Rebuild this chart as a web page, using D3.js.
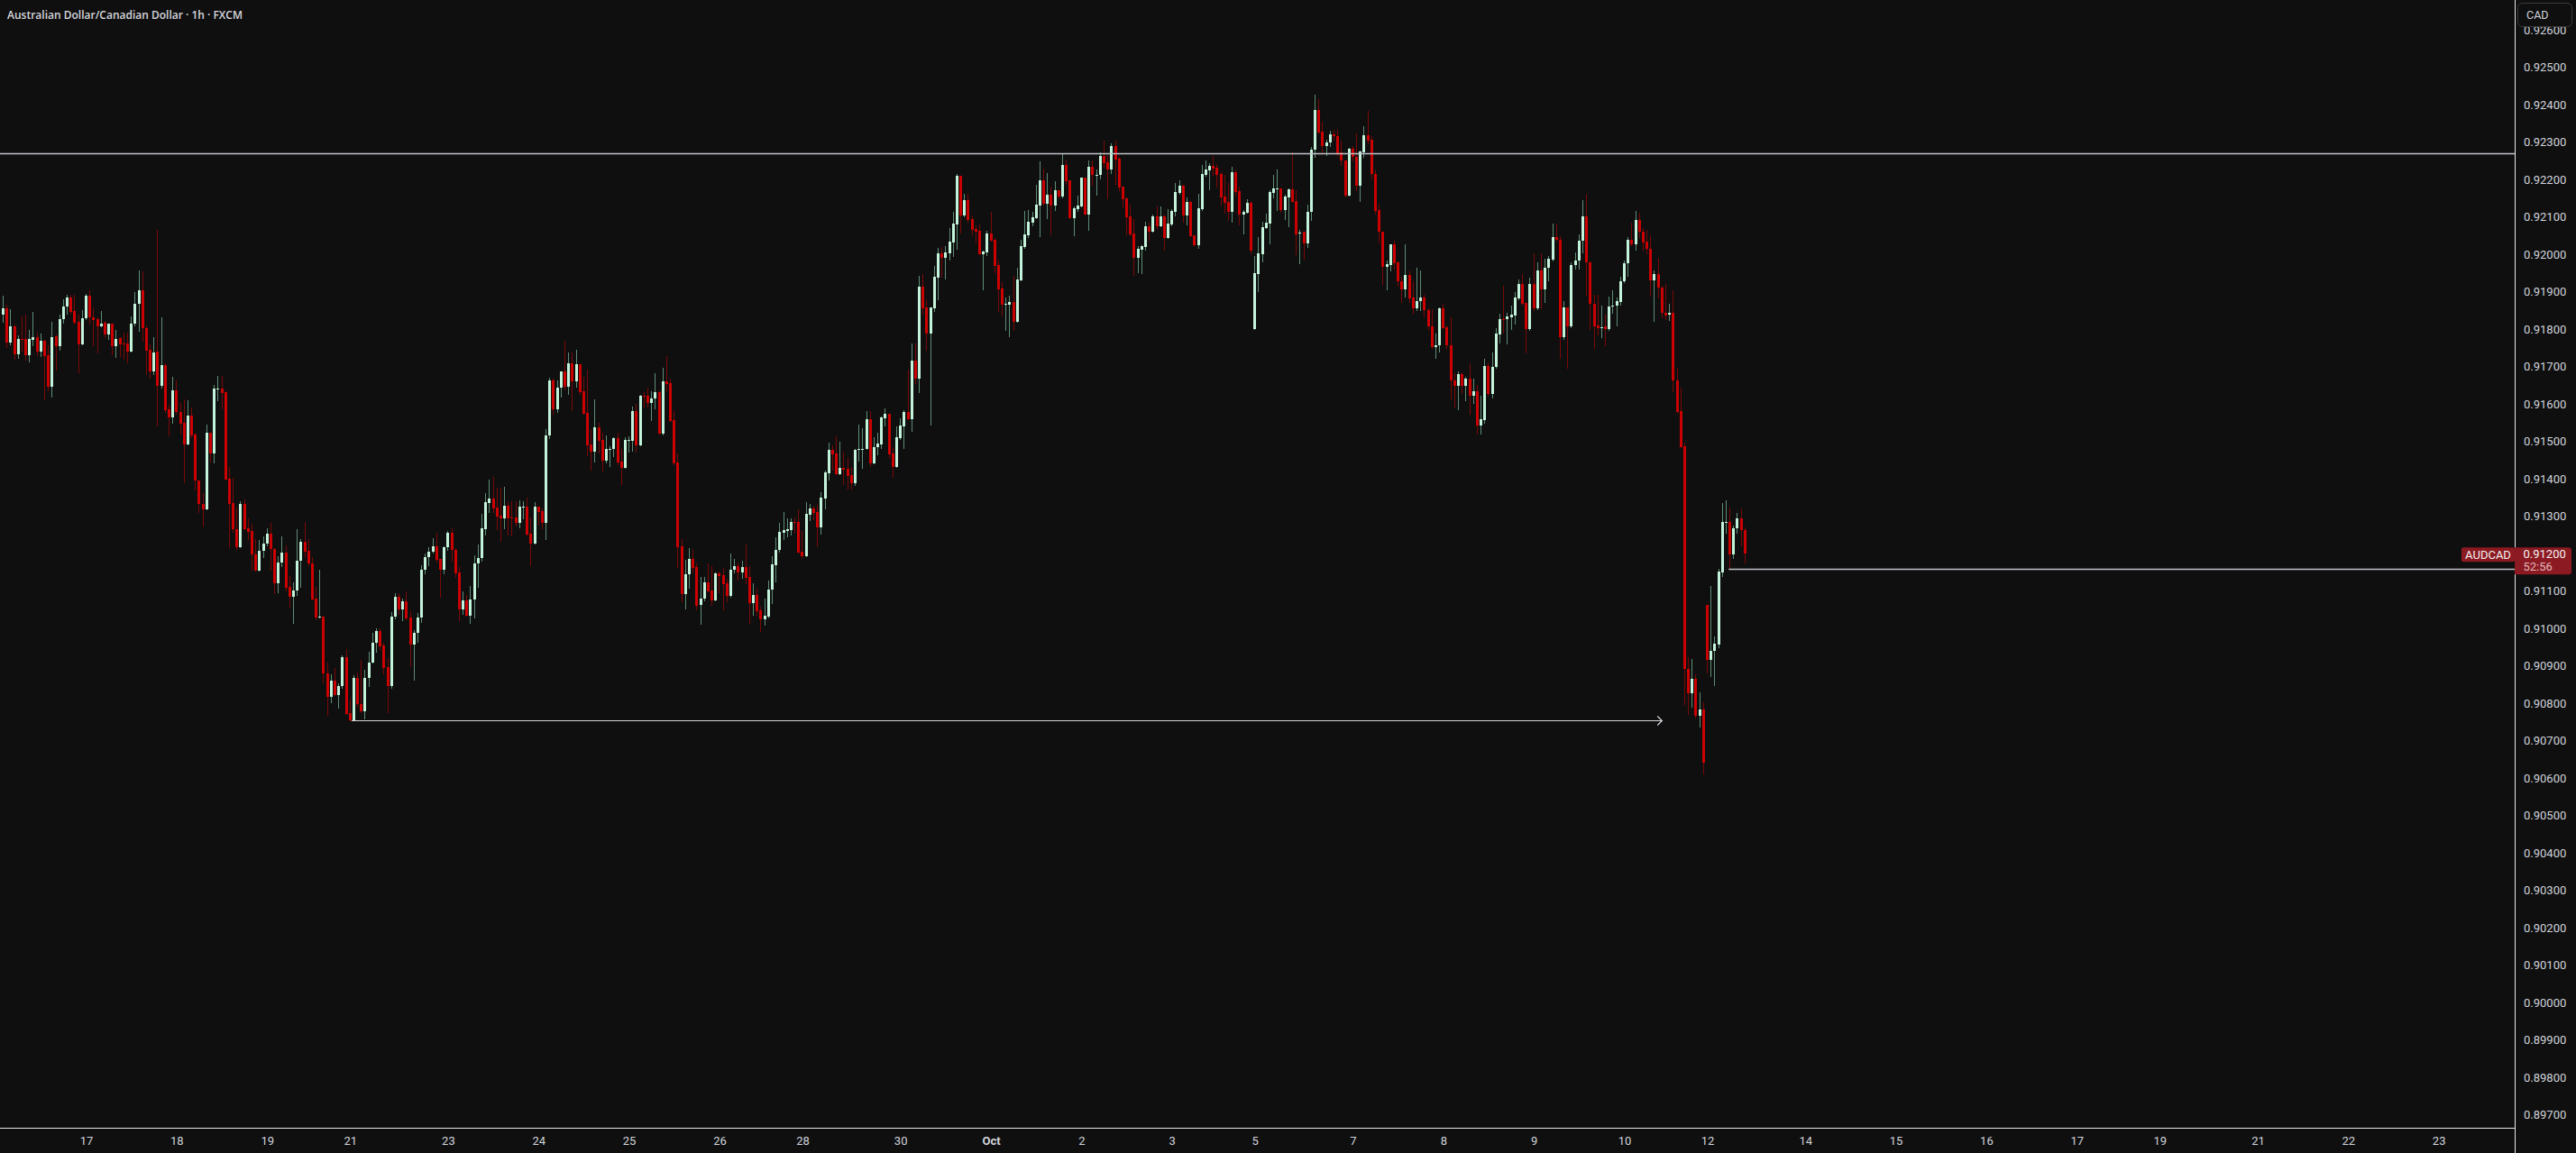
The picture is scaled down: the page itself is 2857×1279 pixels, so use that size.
<!DOCTYPE html>
<html>
<head>
<meta charset="utf-8">
<script src="https://cdn.jsdelivr.net/npm/d3@7"></script>
<style>
  html, body { margin: 0; padding: 0; background: #0f0f0f; }
  svg { display: block; }
</style>
</head>
<body>
<svg id="chart" width="2857" height="1279"></svg>
<script>
// AUDCAD 1h candles (bar 0 = first visible hour)
const opens = [
0.91840,0.91856,0.91765,0.91808,0.91734,0.91775,0.91773,0.91731,0.91772,0.91779,
0.91740,0.91769,0.91730,0.91647,0.91781,0.91755,0.91826,0.91860,0.91885,0.91848,
0.91820,0.91760,0.91829,0.91890,0.91833,0.91826,0.91808,0.91817,0.91787,0.91815,
0.91755,0.91776,0.91761,0.91762,0.91741,0.91816,0.91867,0.91903,0.91804,0.91744,
0.91688,0.91740,0.91649,0.91703,0.91586,0.91564,0.91636,0.91580,0.91549,0.91493,
0.91568,0.91519,0.91395,0.91332,0.91319,0.91523,0.91467,0.91640,0.91641,0.91632,
0.91400,0.91335,0.91266,0.91218,0.91333,0.91268,0.91261,0.91198,0.91154,0.91207,
0.91226,0.91253,0.91213,0.91122,0.91176,0.91202,0.91111,0.91086,0.91101,0.91181,
0.91232,0.91207,0.91173,0.91080,0.91030,0.91033,0.90880,0.90818,0.90861,0.90823,
0.90846,0.90923,0.90773,0.90755,0.90868,0.90798,0.90779,0.90868,0.90909,0.90961,
0.90993,0.90955,0.90897,0.90847,0.91031,0.91085,0.91050,0.91073,0.91029,0.90956,
0.90989,0.91029,0.91158,0.91190,0.91206,0.91220,0.91186,0.91156,0.91217,0.91257,
0.91210,0.91150,0.91052,0.91075,0.91035,0.91077,0.91174,0.91188,0.91266,0.91336,
0.91347,0.91323,0.91302,0.91294,0.91328,0.91297,0.91297,0.91282,0.91326,0.91326,
0.91254,0.91228,0.91326,0.91314,0.91282,0.91515,0.91663,0.91587,0.91644,0.91687,
0.91646,0.91709,0.91660,0.91706,0.91634,0.91576,0.91491,0.91473,0.91538,0.91504,
0.91449,0.91480,0.91479,0.91509,0.91446,0.91429,0.91504,0.91502,0.91581,0.91490,
0.91622,0.91622,0.91604,0.91614,0.91632,0.91522,0.91661,0.91656,0.91557,0.91444,
0.91220,0.91093,0.91145,0.91186,0.91164,0.91062,0.91080,0.91123,0.91102,0.91074,
0.91148,0.91143,0.91121,0.91088,0.91156,0.91167,0.91150,0.91164,0.91138,0.91068,
0.91090,0.91049,0.91025,0.91033,0.91103,0.91170,0.91209,0.91257,0.91261,0.91264,
0.91285,0.91285,0.91205,0.91194,0.91305,0.91321,0.91311,0.91270,0.91348,0.91416,
0.91478,0.91468,0.91413,0.91429,0.91427,0.91410,0.91388,0.91480,0.91480,0.91480,
0.91559,0.91441,0.91484,0.91493,0.91563,0.91574,0.91467,0.91433,0.91510,0.91541,
0.91579,0.91559,0.91716,0.91669,0.91914,0.91858,0.91788,0.91857,0.91938,0.92003,
0.91991,0.92004,0.92032,0.92081,0.92210,0.92104,0.92145,0.92094,0.92068,0.92063,
0.92001,0.92006,0.92056,0.92039,0.91971,0.91909,0.91866,0.91866,0.91873,0.91820,
0.91931,0.92020,0.92052,0.92085,0.92097,0.92131,0.92198,0.92136,0.92159,0.92131,
0.92171,0.92154,0.92239,0.92198,0.92098,0.92121,0.92129,0.92205,0.92107,0.92234,
0.92212,0.92212,0.92263,0.92246,0.92228,0.92289,0.92256,0.92181,0.92150,0.92102,
0.92056,0.91992,0.92013,0.92020,0.92075,0.92061,0.92102,0.92075,0.92102,0.92045,
0.92081,0.92114,0.92165,0.92183,0.92105,0.92140,0.92051,0.92025,0.92121,0.92213,
0.92225,0.92236,0.92232,0.92215,0.92154,0.92140,0.92114,0.92220,0.92169,0.92107,
0.92112,0.92138,0.91801,0.91948,0.92001,0.92071,0.92083,0.92165,0.92176,0.92176,
0.92119,0.92153,0.92174,0.92142,0.92055,0.92061,0.92029,0.92114,0.92280,0.92385,
0.92329,0.92289,0.92300,0.92322,0.92317,0.92272,0.92252,0.92158,0.92282,0.92260,
0.92184,0.92272,0.92319,0.92307,0.92216,0.92118,0.92061,0.91966,0.91972,0.92028,
0.91980,0.91929,0.91906,0.91944,0.91884,0.91857,0.91874,0.91884,0.91851,0.91808,
0.91752,0.91756,0.91856,0.91806,0.91758,0.91664,0.91648,0.91681,0.91648,0.91669,
0.91621,0.91634,0.91542,0.91558,0.91702,0.91626,0.91699,0.91786,0.91827,0.91826,
0.91832,0.91837,0.91882,0.91922,0.91870,0.91801,0.91920,0.91856,0.91958,0.91906,
0.91965,0.91987,0.92047,0.92040,0.91780,0.91858,0.91808,0.91972,0.91983,0.92036,
0.92102,0.91980,0.91868,0.91810,0.91805,0.91808,0.91801,0.91861,0.91863,0.91873,
0.91928,0.91976,0.92040,0.92028,0.92092,0.92061,0.92035,0.92016,0.91930,0.91948,
0.91912,0.91845,0.91838,0.91844,0.91664,0.91581,0.91488,0.90893,0.90828,0.90866,
0.90766,0.90784,0.91063,0.90916,0.90940,0.90958,0.91150,0.91285,0.91286,0.91197,
0.91267,0.91294,0.91264
];
const highs = [
0.91889,0.91865,0.91853,0.91812,0.91784,0.91834,0.91838,0.91798,0.91846,0.91792,
0.91788,0.91771,0.91756,0.91820,0.91785,0.91839,0.91881,0.91891,0.91891,0.91891,
0.91838,0.91851,0.91894,0.91903,0.91859,0.91833,0.91849,0.91821,0.91814,0.91816,
0.91798,0.91780,0.91790,0.91791,0.91834,0.91899,0.91957,0.91954,0.91810,0.91760,
0.91779,0.92065,0.91832,0.91708,0.91598,0.91673,0.91663,0.91604,0.91612,0.91610,
0.91590,0.91523,0.91395,0.91363,0.91545,0.91523,0.91652,0.91676,0.91676,0.91634,
0.91432,0.91403,0.91324,0.91340,0.91345,0.91294,0.91281,0.91240,0.91237,0.91246,
0.91269,0.91282,0.91214,0.91194,0.91246,0.91222,0.91140,0.91123,0.91266,0.91240,
0.91286,0.91239,0.91190,0.91112,0.91158,0.91033,0.90909,0.90877,0.90895,0.90853,
0.90928,0.90944,0.90809,0.90875,0.90883,0.90916,0.90889,0.90937,0.90989,0.91001,
0.91001,0.90961,0.90921,0.91044,0.91095,0.91095,0.91079,0.91099,0.91046,0.90996,
0.91042,0.91168,0.91201,0.91217,0.91241,0.91256,0.91186,0.91220,0.91260,0.91268,
0.91214,0.91164,0.91099,0.91090,0.91114,0.91196,0.91225,0.91306,0.91362,0.91398,
0.91405,0.91376,0.91376,0.91379,0.91338,0.91340,0.91340,0.91343,0.91340,0.91350,
0.91297,0.91338,0.91326,0.91321,0.91533,0.91670,0.91668,0.91663,0.91688,0.91769,
0.91738,0.91738,0.91745,0.91706,0.91673,0.91692,0.91533,0.91612,0.91550,0.91523,
0.91516,0.91487,0.91511,0.91523,0.91480,0.91511,0.91514,0.91593,0.91600,0.91625,
0.91632,0.91644,0.91634,0.91682,0.91637,0.91697,0.91728,0.91668,0.91581,0.91468,
0.91239,0.91184,0.91215,0.91210,0.91174,0.91138,0.91138,0.91174,0.91167,0.91150,
0.91152,0.91162,0.91133,0.91200,0.91186,0.91176,0.91181,0.91225,0.91167,0.91121,
0.91107,0.91058,0.91080,0.91128,0.91193,0.91244,0.91282,0.91311,0.91294,0.91294,
0.91297,0.91319,0.91261,0.91338,0.91333,0.91328,0.91331,0.91364,0.91422,0.91497,
0.91490,0.91514,0.91499,0.91473,0.91456,0.91432,0.91480,0.91545,0.91535,0.91581,
0.91581,0.91511,0.91523,0.91567,0.91588,0.91574,0.91486,0.91540,0.91562,0.91584,
0.91692,0.91761,0.91761,0.91942,0.91947,0.91877,0.91858,0.91969,0.92017,0.92020,
0.92022,0.92070,0.92114,0.92215,0.92210,0.92162,0.92162,0.92104,0.92077,0.92080,
0.92011,0.92063,0.92114,0.92044,0.91984,0.91926,0.91885,0.91890,0.91942,0.91964,
0.92039,0.92116,0.92118,0.92114,0.92186,0.92248,0.92229,0.92217,0.92182,0.92196,
0.92171,0.92268,0.92253,0.92198,0.92128,0.92157,0.92205,0.92205,0.92251,0.92251,
0.92227,0.92272,0.92305,0.92265,0.92297,0.92305,0.92261,0.92181,0.92152,0.92134,
0.92094,0.92022,0.92024,0.92087,0.92085,0.92106,0.92128,0.92128,0.92106,0.92121,
0.92121,0.92191,0.92198,0.92186,0.92152,0.92142,0.92051,0.92162,0.92240,0.92251,
0.92244,0.92263,0.92241,0.92220,0.92212,0.92191,0.92234,0.92227,0.92181,0.92118,
0.92147,0.92142,0.91996,0.92046,0.92087,0.92109,0.92171,0.92213,0.92228,0.92176,
0.92159,0.92176,0.92275,0.92171,0.92066,0.92061,0.92134,0.92287,0.92426,0.92416,
0.92354,0.92307,0.92331,0.92334,0.92334,0.92305,0.92252,0.92286,0.92289,0.92324,
0.92278,0.92343,0.92383,0.92317,0.92224,0.92134,0.92061,0.91984,0.92028,0.92037,
0.91981,0.91941,0.92028,0.91958,0.91927,0.91965,0.91958,0.91891,0.91857,0.91854,
0.91789,0.91858,0.91868,0.91810,0.91832,0.91683,0.91687,0.91684,0.91672,0.91710,
0.91669,0.91652,0.91622,0.91720,0.91712,0.91738,0.91804,0.91842,0.91915,0.91843,
0.91863,0.91900,0.91932,0.91948,0.91870,0.91939,0.92004,0.91978,0.92004,0.91988,
0.91996,0.92083,0.92083,0.92049,0.91875,0.91858,0.91980,0.92006,0.92054,0.92144,
0.92161,0.91982,0.91891,0.91891,0.91863,0.91840,0.91887,0.91905,0.91885,0.91941,
0.91984,0.92047,0.92084,0.92116,0.92112,0.92071,0.92066,0.92052,0.91956,0.91992,
0.91915,0.91922,0.91868,0.91905,0.91698,0.91645,0.91497,0.90924,0.90918,0.90877,
0.90829,0.90802,0.91063,0.91113,0.90979,0.91159,0.91336,0.91342,0.91324,0.91276,
0.91309,0.91321,0.91270
];
const lows = [
0.91819,0.91752,0.91760,0.91722,0.91724,0.91743,0.91718,0.91714,0.91758,0.91731,
0.91727,0.91613,0.91636,0.91620,0.91693,0.91746,0.91818,0.91841,0.91842,0.91814,
0.91686,0.91760,0.91827,0.91815,0.91758,0.91739,0.91807,0.91778,0.91774,0.91733,
0.91726,0.91729,0.91722,0.91712,0.91740,0.91811,0.91796,0.91769,0.91680,0.91671,
0.91680,0.91543,0.91645,0.91580,0.91515,0.91551,0.91573,0.91522,0.91392,0.91491,
0.91512,0.91372,0.91312,0.91276,0.91319,0.91446,0.91445,0.91611,0.91589,0.91397,
0.91218,0.91258,0.91212,0.91217,0.91265,0.91238,0.91158,0.91154,0.91154,0.91192,
0.91222,0.91158,0.91094,0.91098,0.91166,0.91102,0.91058,0.91016,0.91090,0.91112,
0.91194,0.91168,0.91077,0.91025,0.91030,0.90855,0.90768,0.90804,0.90822,0.90789,
0.90841,0.90771,0.90755,0.90755,0.90793,0.90777,0.90760,0.90847,0.90908,0.90937,
0.90944,0.90881,0.90777,0.90841,0.91028,0.91038,0.91023,0.91025,0.90899,0.90863,
0.90965,0.91017,0.91148,0.91170,0.91204,0.91178,0.91086,0.91148,0.91209,0.91180,
0.91138,0.91023,0.91040,0.91035,0.91016,0.91030,0.91112,0.91182,0.91252,0.91312,
0.91312,0.91266,0.91234,0.91269,0.91252,0.91249,0.91274,0.91271,0.91294,0.91252,
0.91168,0.91228,0.91278,0.91268,0.91240,0.91509,0.91574,0.91580,0.91620,0.91639,
0.91627,0.91584,0.91646,0.91626,0.91574,0.91463,0.91425,0.91446,0.91470,0.91422,
0.91444,0.91434,0.91461,0.91439,0.91386,0.91429,0.91473,0.91475,0.91473,0.91490,
0.91593,0.91593,0.91557,0.91589,0.91522,0.91519,0.91637,0.91555,0.91439,0.91164,
0.91073,0.91054,0.91109,0.91152,0.91051,0.91013,0.91074,0.91099,0.91063,0.91074,
0.91097,0.91051,0.91073,0.91086,0.91150,0.91131,0.91136,0.91121,0.91015,0.91037,
0.91037,0.90993,0.91011,0.91030,0.91068,0.91126,0.91206,0.91239,0.91246,0.91251,
0.91258,0.91203,0.91188,0.91194,0.91290,0.91292,0.91220,0.91253,0.91321,0.91398,
0.91425,0.91413,0.91413,0.91386,0.91374,0.91374,0.91384,0.91449,0.91429,0.91480,
0.91434,0.91441,0.91466,0.91482,0.91543,0.91459,0.91406,0.91433,0.91507,0.91483,
0.91559,0.91529,0.91657,0.91632,0.91842,0.91746,0.91545,0.91849,0.91880,0.91941,
0.91936,0.91986,0.91996,0.92015,0.92059,0.92102,0.92087,0.92053,0.92032,0.92000,
0.91906,0.91999,0.92037,0.91952,0.91849,0.91837,0.91799,0.91782,0.91799,0.91820,
0.91931,0.92018,0.92046,0.92077,0.92097,0.92049,0.92134,0.92097,0.92054,0.92118,
0.92153,0.92152,0.92188,0.92098,0.92051,0.92116,0.92127,0.92107,0.92066,0.92187,
0.92160,0.92204,0.92235,0.92151,0.92218,0.92189,0.92172,0.92128,0.92054,0.92052,
0.91946,0.91952,0.91951,0.92013,0.92040,0.92061,0.92069,0.92075,0.92013,0.92044,
0.92077,0.92104,0.92162,0.92088,0.92080,0.92049,0.92025,0.92017,0.92119,0.92210,
0.92175,0.92212,0.92182,0.92134,0.92111,0.92092,0.92087,0.92157,0.92079,0.92057,
0.92111,0.92003,0.91801,0.91902,0.91981,0.92070,0.92029,0.92153,0.92118,0.92114,
0.92095,0.92075,0.92141,0.92000,0.91976,0.91988,0.92019,0.92091,0.92260,0.92323,
0.92272,0.92265,0.92289,0.92307,0.92265,0.92240,0.92155,0.92157,0.92251,0.92172,
0.92143,0.92260,0.92296,0.92203,0.92110,0.92031,0.91921,0.91906,0.91956,0.91963,
0.91916,0.91872,0.91888,0.91872,0.91843,0.91850,0.91852,0.91834,0.91800,0.91749,
0.91723,0.91740,0.91802,0.91749,0.91614,0.91592,0.91587,0.91630,0.91611,0.91573,
0.91603,0.91522,0.91522,0.91551,0.91623,0.91618,0.91696,0.91765,0.91792,0.91762,
0.91801,0.91814,0.91879,0.91866,0.91738,0.91798,0.91852,0.91854,0.91856,0.91872,
0.91930,0.91984,0.92037,0.91723,0.91774,0.91696,0.91806,0.91963,0.91963,0.92006,
0.91891,0.91800,0.91749,0.91786,0.91778,0.91756,0.91797,0.91844,0.91809,0.91866,
0.91926,0.91942,0.92024,0.92013,0.92046,0.92013,0.92004,0.91890,0.91821,0.91886,
0.91831,0.91828,0.91824,0.91635,0.91580,0.91486,0.90798,0.90772,0.90790,0.90762,
0.90738,0.90612,0.90882,0.90873,0.90849,0.90950,0.91141,0.91257,0.91159,0.91189,
0.91255,0.91221,0.91176
];
const closes = [
0.91855,0.91765,0.91807,0.91734,0.91775,0.91771,0.91731,0.91773,0.91778,0.91740,
0.91768,0.91729,0.91647,0.91780,0.91755,0.91826,0.91860,0.91885,0.91847,0.91818,
0.91760,0.91829,0.91889,0.91833,0.91824,0.91808,0.91816,0.91787,0.91814,0.91755,
0.91775,0.91760,0.91760,0.91741,0.91816,0.91867,0.91903,0.91804,0.91743,0.91688,
0.91739,0.91649,0.91703,0.91584,0.91564,0.91636,0.91580,0.91547,0.91493,0.91568,
0.91517,0.91395,0.91332,0.91319,0.91523,0.91467,0.91641,0.91641,0.91630,0.91399,
0.91334,0.91265,0.91218,0.91333,0.91266,0.91259,0.91197,0.91154,0.91207,0.91226,
0.91253,0.91212,0.91122,0.91176,0.91202,0.91110,0.91086,0.91101,0.91181,0.91232,
0.91206,0.91173,0.91078,0.91030,0.91033,0.90879,0.90818,0.90861,0.90823,0.90846,
0.90923,0.90772,0.90755,0.90868,0.90797,0.90779,0.90868,0.90909,0.90961,0.90993,
0.90953,0.90895,0.90847,0.91031,0.91084,0.91050,0.91072,0.91027,0.90956,0.90989,
0.91029,0.91158,0.91190,0.91206,0.91220,0.91184,0.91156,0.91217,0.91257,0.91209,
0.91148,0.91052,0.91075,0.91035,0.91078,0.91174,0.91188,0.91268,0.91338,0.91347,
0.91322,0.91300,0.91294,0.91328,0.91294,0.91296,0.91282,0.91326,0.91326,0.91252,
0.91228,0.91326,0.91312,0.91282,0.91515,0.91663,0.91587,0.91644,0.91687,0.91646,
0.91709,0.91660,0.91706,0.91632,0.91574,0.91490,0.91473,0.91538,0.91502,0.91449,
0.91480,0.91481,0.91509,0.91444,0.91429,0.91504,0.91504,0.91581,0.91490,0.91622,
0.91621,0.91604,0.91615,0.91632,0.91522,0.91661,0.91654,0.91555,0.91441,0.91217,
0.91093,0.91145,0.91186,0.91162,0.91061,0.91080,0.91123,0.91099,0.91074,0.91148,
0.91140,0.91119,0.91088,0.91157,0.91167,0.91150,0.91164,0.91135,0.91068,0.91090,
0.91046,0.91025,0.91034,0.91104,0.91172,0.91210,0.91258,0.91263,0.91265,0.91285,
0.91284,0.91203,0.91193,0.91306,0.91321,0.91309,0.91270,0.91350,0.91417,0.91478,
0.91466,0.91413,0.91429,0.91425,0.91408,0.91388,0.91478,0.91480,0.91481,0.91559,
0.91441,0.91485,0.91494,0.91564,0.91574,0.91466,0.91433,0.91511,0.91543,0.91579,
0.91559,0.91716,0.91669,0.91914,0.91856,0.91788,0.91858,0.91940,0.92003,0.91991,
0.92005,0.92034,0.92082,0.92210,0.92104,0.92145,0.92093,0.92066,0.92061,0.92001,
0.92008,0.92056,0.92037,0.91970,0.91906,0.91866,0.91868,0.91873,0.91820,0.91933,
0.92022,0.92053,0.92087,0.92099,0.92133,0.92198,0.92136,0.92159,0.92131,0.92171,
0.92155,0.92239,0.92196,0.92098,0.92123,0.92130,0.92205,0.92107,0.92234,0.92212,
0.92213,0.92263,0.92244,0.92228,0.92289,0.92254,0.92179,0.92147,0.92100,0.92053,
0.91992,0.92015,0.92022,0.92075,0.92061,0.92102,0.92075,0.92102,0.92045,0.92082,
0.92116,0.92167,0.92183,0.92105,0.92140,0.92049,0.92025,0.92123,0.92215,0.92227,
0.92236,0.92230,0.92213,0.92153,0.92138,0.92114,0.92220,0.92167,0.92107,0.92114,
0.92138,0.92011,0.91950,0.92003,0.92073,0.92085,0.92167,0.92176,0.92176,0.92119,
0.92155,0.92174,0.92141,0.92054,0.92059,0.92030,0.92114,0.92281,0.92385,0.92326,
0.92289,0.92300,0.92322,0.92316,0.92270,0.92251,0.92158,0.92282,0.92260,0.92184,
0.92275,0.92319,0.92305,0.92214,0.92116,0.92060,0.91966,0.91975,0.92028,0.91977,
0.91928,0.91906,0.91944,0.91882,0.91857,0.91874,0.91884,0.91850,0.91807,0.91752,
0.91758,0.91856,0.91804,0.91756,0.91663,0.91648,0.91681,0.91648,0.91669,0.91621,
0.91634,0.91542,0.91560,0.91702,0.91626,0.91700,0.91789,0.91827,0.91825,0.91834,
0.91839,0.91885,0.91922,0.91868,0.91801,0.91920,0.91856,0.91958,0.91906,0.91965,
0.91989,0.92047,0.92038,0.91780,0.91858,0.91808,0.91972,0.91984,0.92037,0.92102,
0.91978,0.91867,0.91808,0.91803,0.91806,0.91801,0.91861,0.91864,0.91875,0.91929,
0.91977,0.92040,0.92028,0.92092,0.92060,0.92032,0.92014,0.91930,0.91948,0.91911,
0.91844,0.91837,0.91844,0.91663,0.91580,0.91486,0.90892,0.90828,0.90866,0.90766,
0.90784,0.90642,0.90916,0.90940,0.90960,0.91152,0.91285,0.91286,0.91197,0.91268,
0.91294,0.91262,0.91200
];

// price scale ticks
const priceTicks = [0.897,0.898,0.899,0.900,0.901,0.902,0.903,0.904,0.905,0.906,
  0.907,0.908,0.909,0.910,0.911,0.912,0.913,0.914,0.915,0.916,0.917,0.918,0.919,
  0.920,0.921,0.922,0.923,0.924,0.925,0.926];
// time scale: bar index of each day label (weekends skipped)
const dayTickIdx = [22,46,70,92,118,142,166,190,212,238,262,286,310,332,358,382,406,430,452,478,502,526,550,572,598,622,646];
const dayTickLabels = ["17","18","19","21","23","24","25","26","28","30","Oct","2","3","5","7","8","9","10","12","14","15","16","17","19","21","22","23"];

// drawings
const levelPrice = 0.92270;
const rayPrice = 0.91160, rayFrom = 457.7;
const arrowPrice = 0.90755, arrowFrom = 92.4, arrowTo = 440;
const lastPrice = 0.91200, countdown = "52:56", symbol = "AUDCAD";
const title = "Australian Dollar/Canadian Dollar · 1h · FXCM";

var svg = d3.select("#chart"),
    width = +svg.attr("width"),
    height = +svg.attr("height"),
    plotRight = 2789,
    plotBottom = 1251;

var x = d3.scaleLinear().domain([0, 646]).range([3.5, 3.5 + 4.1814 * 646]);
var y = d3.scaleLinear().domain([0.897, 0.926]).range([1236.7, 33.2]);

var upBody = "#c3f3da", upWick = "#5e8e77",
    dnBody = "#cc0000", dnWick = "#7a0808",
    lineCol = "#c2c2cc", txtCol = "#d1d4dc";

svg.append("rect").attr("width", width).attr("height", height).attr("fill", "#0f0f0f");

svg.append("defs").append("clipPath").attr("id", "plotClip")
  .append("rect").attr("width", plotRight).attr("height", plotBottom);

var plot = svg.append("g").attr("clip-path", "url(#plotClip)");

var bars = opens.map(function(o, i) {
  return {i: i, o: o, h: highs[i], l: lows[i], c: closes[i], up: closes[i] >= o};
});

function bodyLeft(d) { return Math.round(x(d.i) - 1.5); }

// wicks
plot.append("g").attr("shape-rendering", "crispEdges")
  .selectAll("line").data(bars).enter().append("line")
    .attr("x1", function(d) { return bodyLeft(d) + 1.5; })
    .attr("x2", function(d) { return bodyLeft(d) + 1.5; })
    .attr("y1", function(d) { return Math.round(y(d.h)); })
    .attr("y2", function(d) { return Math.round(y(d.l)) + 1; })
    .attr("stroke", function(d) { return d.up ? upWick : dnWick; })
    .attr("stroke-width", 1);

// bodies
plot.append("g").attr("shape-rendering", "crispEdges")
  .selectAll("rect").data(bars).enter().append("rect")
    .attr("x", bodyLeft)
    .attr("y", function(d) { return Math.round(y(Math.max(d.o, d.c))); })
    .attr("width", 3)
    .attr("height", function(d) {
      return Math.max(1, Math.round(y(Math.min(d.o, d.c))) - Math.round(y(Math.max(d.o, d.c))));
    })
    .attr("fill", function(d) { return d.up ? upBody : dnBody; });

// horizontal level across the chart
plot.append("line")
  .attr("x1", 0).attr("x2", plotRight)
  .attr("y1", Math.round(y(levelPrice)) + 0.5).attr("y2", Math.round(y(levelPrice)) + 0.5)
  .attr("stroke", lineCol).attr("stroke-width", 1.3);

// ray from the rebound
plot.append("line")
  .attr("x1", x(rayFrom)).attr("x2", plotRight)
  .attr("y1", Math.round(y(rayPrice)) + 0.5).attr("y2", Math.round(y(rayPrice)) + 0.5)
  .attr("stroke", lineCol).attr("stroke-width", 1.3);

// arrow from the September low
var ay = Math.round(y(arrowPrice)) + 0.5;
plot.append("line")
  .attr("x1", x(arrowFrom)).attr("x2", x(arrowTo))
  .attr("y1", ay).attr("y2", ay)
  .attr("stroke", "#d4d4dc").attr("stroke-width", 1);
plot.append("path")
  .attr("d", "M" + (x(arrowTo) - 5) + "," + (ay - 5) + "L" + x(arrowTo) + "," + ay + "L" + (x(arrowTo) - 5) + "," + (ay + 5))
  .attr("fill", "none").attr("stroke", "#d4d4dc").attr("stroke-width", 1.2);

// axes frame
svg.append("line").attr("x1", plotRight + 0.5).attr("x2", plotRight + 0.5)
  .attr("y1", 0).attr("y2", height).attr("stroke", "#e8e8e8").attr("stroke-width", 1);
svg.append("line").attr("x1", 0).attr("x2", plotRight)
  .attr("y1", plotBottom + 0.5).attr("y2", plotBottom + 0.5).attr("stroke", "#e8e8e8").attr("stroke-width", 1);

// price axis
var yAxis = svg.append("g")
  .attr("transform", "translate(" + plotRight + ",0)")
  .call(d3.axisRight(y).tickValues(priceTicks).tickSize(0).tickPadding(10).tickFormat(d3.format(".5f")));
yAxis.select(".domain").remove();
yAxis.selectAll("text")
  .attr("font-family", "Roboto, sans-serif").attr("font-size", 13).attr("fill", txtCol);

// time axis
var xAxis = svg.append("g")
  .attr("transform", "translate(0," + plotBottom + ")")
  .call(d3.axisBottom(x).tickValues(dayTickIdx).tickSize(0).tickPadding(10)
    .tickFormat(function(d, i) { return dayTickLabels[i]; }));
xAxis.select(".domain").remove();
xAxis.selectAll("text")
  .attr("font-family", "Roboto, sans-serif").attr("font-size", 13).attr("fill", txtCol)
  .attr("font-weight", function(d, i) { return dayTickLabels[i] === "Oct" ? "bold" : "normal"; });

// currency button
svg.append("rect").attr("x", 2792.5).attr("y", 3.5).attr("width", 60).attr("height", 26).attr("rx", 5)
  .attr("fill", "#0f0f0f").attr("stroke", "#3a3a3a");
svg.append("text").attr("x", 2802).attr("y", 21).text("CAD")
  .attr("font-family", "Roboto, sans-serif").attr("font-size", 12.5).attr("fill", txtCol);

// last price marker
var ly = y(lastPrice), tagRed = "#8c1a22";
svg.append("path")
  .attr("d", "M" + plotRight + "," + (ly - 7) + "H2849a3,3 0 0 1 3,3V" + (ly + 20) + "a3,3 0 0 1 -3,3H" + plotRight + "Z")
  .attr("fill", tagRed);
svg.append("text").attr("x", 2798.5).attr("y", ly + 4.5).text(d3.format(".5f")(lastPrice))
  .attr("font-family", "Roboto, sans-serif").attr("font-size", 13).attr("fill", "#f2f2f2");
svg.append("text").attr("x", 2798.5).attr("y", ly + 18.5).text(countdown)
  .attr("font-family", "Roboto, sans-serif").attr("font-size", 13).attr("fill", "#e0b8bb");
svg.append("rect").attr("x", 2730).attr("y", ly - 7).attr("width", 59).attr("height", 16).attr("rx", 2)
  .attr("fill", tagRed);
svg.append("text").attr("x", 2759.5).attr("y", ly + 5.5).attr("text-anchor", "middle").text(symbol)
  .attr("font-family", "Roboto, sans-serif").attr("font-size", 13).attr("fill", "#f2f2f2");

// title
svg.append("text").attr("x", 8).attr("y", 20.5).text(title)
  .attr("font-family", "'Open Sans', sans-serif").attr("font-weight", 600)
  .attr("font-size", 12).attr("fill", "#d6d8de");
</script>
</body>
</html>
